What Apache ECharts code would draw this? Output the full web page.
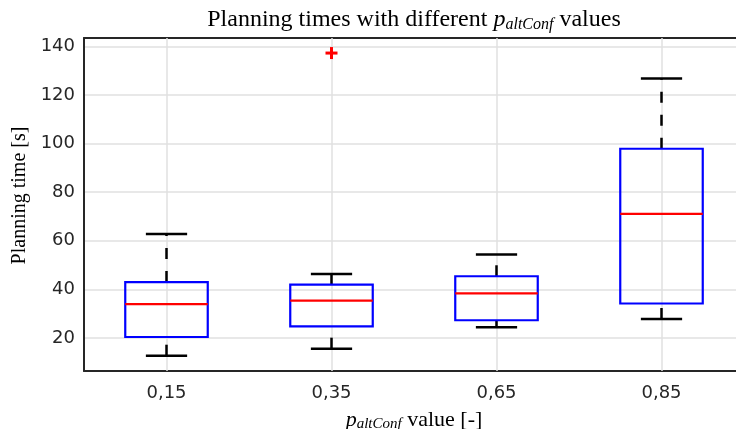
<!DOCTYPE html>
<html>
<head>
<meta charset="utf-8">
<script src="https://cdn.jsdelivr.net/npm/echarts@6/dist/echarts.min.js"></script>
<style>
  html, body { margin: 0; padding: 0; background: #ffffff; }
  #chart { width: 736px; height: 429px; }
</style>
</head>
<body>
<div id="chart"></div>
<script>
// Planning time statistics per p_altConf setting
const categories = ['0,15', '0,35', '0,65', '0,85'];
const lowerWhisker = [12.7, 15.6, 24.4, 27.8];
const q1 = [20.4, 24.8, 27.3, 34.2];
const median = [33.9, 35.4, 38.4, 71.1];
const q3 = [43.0, 42.0, 45.4, 97.9];
const upperWhisker = [62.8, 46.3, 54.4, 126.8];
// outliers as [category index, value]
const outliers = [[1, 137.3]];
const yTicks = [20, 40, 60, 80, 100, 120, 140];
const yRange = [6.4, 143.5];

const AXIS_COLOR = '#262626';
const GRID_COLOR = '#e0e0e0';
const SERIF = '"Liberation Serif", "Times New Roman", serif';

const boxData = categories.map((c, i) => [i, lowerWhisker[i], q1[i], median[i], q3[i], upperWhisker[i]]);

function renderBox(params, api) {
  const i = api.value(0);
  const lo = api.coord([i, api.value(1)]);
  const b1 = api.coord([i, api.value(2)]);
  const md = api.coord([i, api.value(3)]);
  const b3 = api.coord([i, api.value(4)]);
  const hi = api.coord([i, api.value(5)]);
  const band = api.size([1, 0])[0];
  const x = lo[0];
  const halfBox = band * 0.25;
  const halfCap = band * 0.125;
  const whisker = { stroke: '#000000', lineWidth: 2.5, lineDash: [11, 12] };
  const cap = { stroke: '#000000', lineWidth: 2.5 };
  return {
    type: 'group',
    children: [
      { type: 'line', shape: { x1: x, y1: lo[1], x2: x, y2: b1[1] }, style: whisker },
      { type: 'line', shape: { x1: x, y1: b3[1], x2: x, y2: hi[1] }, style: whisker },
      { type: 'line', shape: { x1: x - halfCap, y1: lo[1], x2: x + halfCap, y2: lo[1] }, style: cap },
      { type: 'line', shape: { x1: x - halfCap, y1: hi[1], x2: x + halfCap, y2: hi[1] }, style: cap },
      { type: 'rect', shape: { x: x - halfBox, y: b3[1], width: halfBox * 2, height: b1[1] - b3[1] },
        style: { fill: 'none', stroke: '#0000ff', lineWidth: 2.2 } },
      { type: 'line', shape: { x1: x - halfBox, y1: md[1], x2: x + halfBox, y2: md[1] },
        style: { stroke: '#ff0000', lineWidth: 2.2 } }
    ]
  };
}

function renderOutlier(params, api) {
  const p = api.coord([api.value(0), api.value(1)]);
  const r = 6;
  const st = { stroke: '#ff0000', lineWidth: 3 };
  return {
    type: 'group',
    children: [
      { type: 'line', shape: { x1: p[0] - r, y1: p[1], x2: p[0] + r, y2: p[1] }, style: st },
      { type: 'line', shape: { x1: p[0], y1: p[1] - r, x2: p[0], y2: p[1] + r }, style: st }
    ]
  };
}

function mathStyles(size, subSize, subDrop) {
  return {
    n: { fontFamily: SERIF, fontSize: size, fontWeight: 'normal', color: '#000000' },
    i: { fontFamily: SERIF, fontStyle: 'italic', fontWeight: 'normal', fontSize: size, color: '#000000' },
    s: { fontFamily: SERIF, fontStyle: 'italic', fontWeight: 'normal', fontSize: subSize, color: '#000000',
         padding: [subDrop, 0, 0, 0] }
  };
}

const catAxisBase = {
  type: 'category',
  data: categories,
  boundaryGap: true,
  axisLine: { onZero: false, lineStyle: { color: AXIS_COLOR, width: 2 } },
  axisTick: { inside: true, alignWithLabel: true, length: 6, lineStyle: { color: AXIS_COLOR, width: 2 } },
  splitLine: { show: false }
};

const chart = echarts.init(document.getElementById('chart'), null, { renderer: 'canvas' });
chart.setOption({
  animation: false,
  backgroundColor: '#ffffff',
  title: {
    text: '{n|Planning times with different }{i|p}{s|altConf}{n| values}',
    left: 409,
    textAlign: 'center',
    top: 2,
    textStyle: { fontWeight: 'normal', rich: mathStyles(24, 16, 10) }
  },
  grid: { left: 84, top: 38, width: 660, height: 333, containLabel: false, outerBoundsMode: 'none' },
  xAxis: [
    Object.assign({}, catAxisBase, {
      position: 'bottom',
      axisLabel: { color: AXIS_COLOR, fontFamily: '"DejaVu Sans", sans-serif', fontSize: 18, margin: 13 },
      name: '{i|p}{s|altConf}{n| value [-]}',
      nameLocation: 'middle',
      nameGap: 37,
      nameTextStyle: { fontWeight: 'normal', rich: mathStyles(22, 15, 9) }
    }),
    Object.assign({}, catAxisBase, {
      position: 'top',
      axisLabel: { show: false }
    })
  ],
  yAxis: {
    type: 'value',
    min: yRange[0],
    max: yRange[1],
    splitNumber: 7,
    axisLine: { show: true, lineStyle: { color: AXIS_COLOR, width: 2 } },
    axisTick: { inside: true, length: 6, lineStyle: { color: AXIS_COLOR, width: 2 } },
    axisLabel: {
      color: AXIS_COLOR, fontFamily: '"DejaVu Sans", sans-serif', fontSize: 18, margin: 9,
      showMinLabel: false, showMaxLabel: false,
      formatter: v => (yTicks.indexOf(v) >= 0 ? String(v) : '')
    },
    splitLine: { lineStyle: { color: GRID_COLOR, width: 1.5 } },
    name: 'Planning time [s]',
    nameLocation: 'middle',
    nameGap: 47,
    nameTextStyle: { fontFamily: SERIF, fontSize: 20, color: '#000000', padding: [0, 0, 0, 18] }
  },
  series: [
    {
      type: 'scatter',
      data: [],
      z: 1,
      markLine: {
        silent: true,
        z: 1,
        symbol: 'none',
        label: { show: false },
        lineStyle: { color: GRID_COLOR, width: 1.5, type: 'solid' },
        data: categories.map(c => ({ xAxis: c }))
      }
    },
    {
      type: 'custom',
      renderItem: renderBox,
      data: boxData,
      encode: { x: 0, y: [1, 2, 3, 4, 5] },
      z: 3
    },
    {
      type: 'custom',
      renderItem: renderOutlier,
      data: outliers,
      encode: { x: 0, y: 1 },
      z: 4
    }
  ]
});
</script>
</body>
</html>
